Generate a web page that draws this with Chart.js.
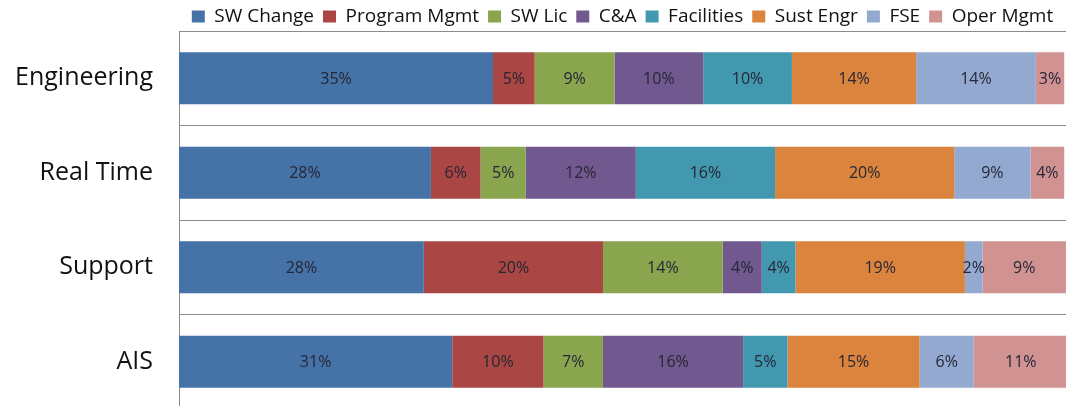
<!DOCTYPE html>
<html>
<head>
<meta charset="utf-8">
<script src="https://cdn.jsdelivr.net/npm/chart.js@4/dist/chart.umd.min.js"></script>
<style>
  html, body { margin: 0; padding: 0; background: #fff; overflow: hidden; }
  #wrap { width: 1074px; height: 410px; }
</style>
</head>
<body>
<div id="wrap"><canvas id="costChart" width="1074" height="410"></canvas></div>
<script>
// share of cost per group (percent)
const groups = ['Engineering', 'Real Time', 'Support', 'AIS'];
const swChange    = [35.4, 28.4, 27.6, 30.8];
const programMgmt = [4.7, 5.6, 20.2, 10.3];
const swLic       = [9.0, 5.1, 13.5, 6.7];
const cAndA       = [10.0, 12.4, 4.4, 15.8];
const facilities  = [10.0, 15.7, 3.8, 5.0];
const sustEngr    = [14.0, 20.2, 19.1, 14.9];
const fse         = [13.5, 8.6, 2.0, 6.1];
const operMgmt    = [3.2, 3.8, 9.4, 10.6];

const seriesNames = ['SW Change', 'Program Mgmt', 'SW Lic', 'C&A', 'Facilities', 'Sust Engr', 'FSE', 'Oper Mgmt'];
const seriesValues = [swChange, programMgmt, swLic, cAndA, facilities, sustEngr, fse, operMgmt];
const seriesColors = ['#4572A7', '#AA4643', '#89A54E', '#71588F', '#4198AF', '#DB843D', '#93A9CF', '#D19392'];

const FONT = '"Open Sans", "Noto Sans", sans-serif';

// percent text in the middle of each segment
const barLabels = {
  id: 'barLabels',
  afterDatasetsDraw(chart) {
    const ctx = chart.ctx;
    ctx.save();
    ctx.font = '16px ' + FONT;
    ctx.fillStyle = '#262636';
    ctx.textAlign = 'center';
    ctx.textBaseline = 'middle';
    chart.data.datasets.forEach((ds, i) => {
      chart.getDatasetMeta(i).data.forEach((bar, j) => {
        const p = bar.getProps(['x', 'y', 'base'], true);
        ctx.fillText(Math.round(ds.data[j]) + '%', (p.x + p.base) / 2, p.y + 1);
      });
    });
    ctx.restore();
  }
};

// legend box is a bit tall by default, trim it so the plot starts right under it
const legendHeight = {
  id: 'legendHeight',
  beforeLayout(chart) {
    const lg = chart.legend;
    if (lg && !lg._trimmed) {
      const fit = lg.fit;
      lg.fit = function () { fit.call(this); this.height = 33; };
      lg._trimmed = true;
    }
  }
};

const ctx = document.getElementById('costChart').getContext('2d');
new Chart(ctx, {
  type: 'bar',
  data: {
    labels: groups,
    datasets: seriesNames.map((name, i) => ({
      label: name,
      data: seriesValues[i],
      backgroundColor: seriesColors[i],
      borderWidth: 0,
      categoryPercentage: 1,
      barPercentage: 0.55
    }))
  },
  options: {
    indexAxis: 'y',
    responsive: false,
    animation: false,
    layout: { padding: { left: 0, right: 8, top: -2, bottom: 1 } },
    plugins: {
      legend: {
        position: 'top',
        fullSize: false,
        labels: {
          font: { family: FONT, size: 19 },
          color: '#111',
          boxWidth: 13,
          boxHeight: 12,
          padding: 9
        }
      },
      tooltip: { enabled: false }
    },
    scales: {
      x: {
        stacked: true,
        min: 0,
        max: 100,
        display: false
      },
      y: {
        stacked: true,
        afterFit: scale => {
          scale.width = 179;
          scale.paddingTop = 0;
          scale.paddingBottom = 0;
        },
        grid: { color: '#8c8c8c', lineWidth: 1, drawTicks: false, offset: true },
        border: { color: '#8c8c8c', width: 1 },
        ticks: { font: { family: FONT, size: 25 }, color: '#111', padding: 26 }
      }
    }
  },
  plugins: [barLabels, legendHeight]
});
</script>
</body>
</html>
